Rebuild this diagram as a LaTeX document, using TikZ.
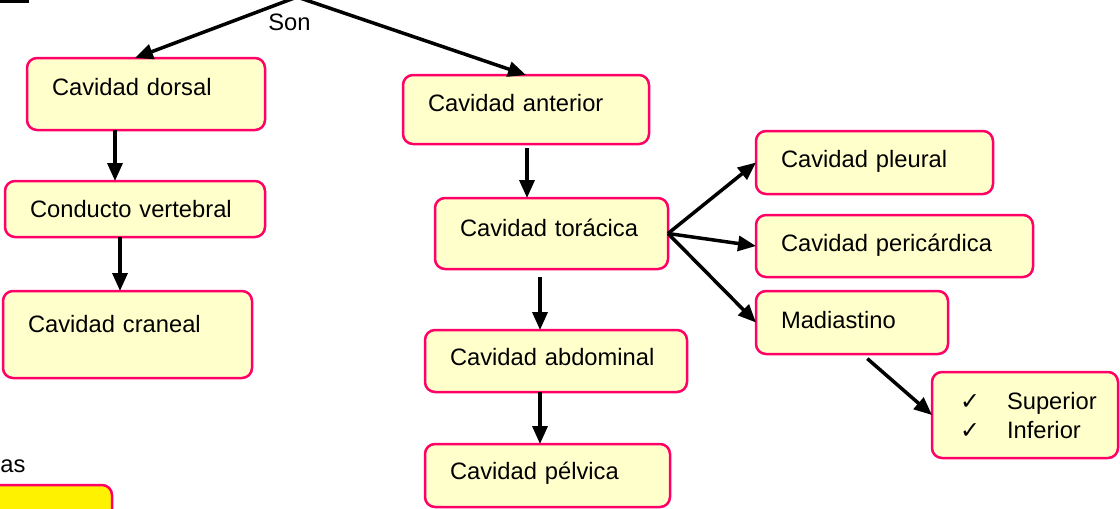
\documentclass[tikz,border=0pt]{standalone}
\usepackage{fontspec}
\setmainfont{Liberation Sans}
\newfontfamily\symbfont{DejaVu Sans}
\usetikzlibrary{arrows.meta}
\definecolor{boxfill}{RGB}{255,255,204}
\definecolor{boxline}{RGB}{255,0,102}
\newcommand{\chk}{\makebox[9.4mm][l]{\symbfont ✓}}

\begin{document}
\begin{tikzpicture}[x=0.2mm, y=-0.2mm, font=\fontsize{13.5}{16.5}\selectfont,
    cbox/.style={draw=boxline, fill=boxfill, line width=0.5mm, rounded corners=2mm,
      anchor=north west, inner xsep=5mm, inner ysep=0pt, outer sep=0pt,
      align=left, text height=7.2mm},
    arr/.style={-{Triangle[length=3.6mm, width=3mm]}, line width=0.7mm}]
    \useasboundingbox (0, 0) rectangle (1120, 508);

    % cut pieces at the edges
    \draw [line width=1.2mm] (0, 0) -- (29, 0);
    \draw [draw=boxline, fill=yellow, line width=0.5mm, rounded corners=2mm] (-20, 485) rectangle (112, 540);
    \node (ramas) [anchor=base west, inner sep=0pt] at (0, 472) {as};

    \coordinate (top) at (297, -3);
    \node (son) [anchor=base west, inner sep=0pt] at (268, 30) {Son};

    % left branch
    \node (dorsal) [cbox, text width=37.6mm, text height=7.4mm, text depth=7mm] at (27, 58) {Cavidad dorsal};
    \node (conducto) [cbox, text width=42mm, text depth=4mm] at (5, 181) {Conducto vertebral};
    \node (craneal) [cbox, text width=39.8mm, text height=8.2mm, text depth=9.2mm] at (3, 291) {Cavidad craneal};

    % middle branch
    \node (anterior) [cbox, text width=39.2mm, text depth=6.6mm] at (403, 75) {Cavidad anterior};
    \node (toracica) [cbox, text width=36.6mm, text height=7.6mm, text depth=6.6mm] at (435, 198) {Cavidad torácica};
    \node (abdominal) [cbox, text width=42.4mm, text height=7mm, text depth=5.4mm] at (425, 330) {Cavidad abdominal};
    \node (pelvica) [cbox, text width=39mm, text height=7mm, text depth=5.6mm] at (425, 444) {Cavidad pélvica};

    % right branch
    \node (pleural) [cbox, text width=37.4mm, text depth=5.4mm] at (756, 131) {Cavidad pleural};
    \node (pericardica) [cbox, text width=45.4mm, text depth=5.2mm] at (756, 215) {Cavidad pericárdica};
    \node (madiastino) [cbox, text width=28.4mm, text height=7.4mm, text depth=5.2mm] at (756, 291) {Madiastino};
    \node (partes) [cbox, inner xsep=5.6mm, text width=26mm, text height=7.4mm, text depth=9.8mm] at (932, 372)
      {\chk Superior\\\chk Inferior};

    \draw [arr] (top) -- (dorsal.107);
    \draw [arr] (top) -- (anterior.north);
    \draw [arr] (dorsal.south -| 115,0) -- (conducto.north -| 115,0);
    \draw [arr] (conducto.south -| 120,0) -- (craneal.north -| 120,0);
    \draw [arr, shorten <=0.8mm] (anterior.south -| 527,0) -- (toracica.north -| 527,0);
    \draw [arr, shorten <=1.6mm] (toracica.south -| 540,0) -- (abdominal.north -| 540,0);
    \draw [arr] (abdominal.south -| 540,0) -- (pelvica.north -| 540,0);
    \draw [arr] (toracica.east) -- (pleural.west);
    \draw [arr] (toracica.east) -- (pericardica.west);
    \draw [arr] (toracica.east) -- (madiastino.west);
    \draw [arr, shorten <=1.4mm] (madiastino.south -| 862,0) -- (partes.west);
\end{tikzpicture}
\end{document}
